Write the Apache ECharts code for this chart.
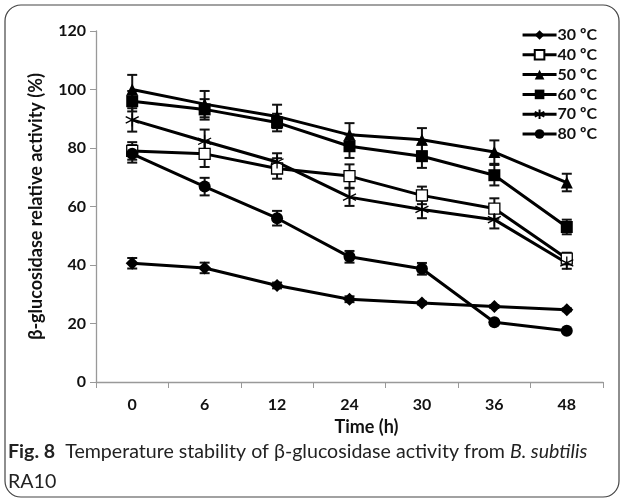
<!DOCTYPE html>
<html>
<head>
<meta charset="utf-8">
<script src="https://cdn.jsdelivr.net/npm/echarts@6/dist/echarts.min.js"></script>
<style>
  html, body { margin: 0; padding: 0; background: #fff; }
  #chart { width: 624px; height: 502px; }
</style>
</head>
<body>
<div id="chart"></div>
<script>
// time points (h)
const times = ['0', '6', '12', '24', '30', '36', '48'];
const yTicks = [0, 20, 40, 60, 80, 100, 120];

// relative activity (%) per temperature
const t30 = [40.6, 39.0, 33.0, 28.3, 27.0, 25.8, 24.7];
const t40 = [79.0, 78.0, 73.0, 70.4, 63.8, 59.3, 42.2];
const t50 = [100.0, 95.0, 90.8, 84.5, 82.8, 78.6, 68.2];
const t60 = [96.0, 93.2, 88.7, 80.6, 77.2, 70.7, 53.0];
const t70 = [89.6, 82.3, 75.2, 63.2, 59.0, 55.5, 40.7];
const t80 = [78.0, 66.8, 56.0, 42.8, 38.7, 20.4, 17.5];

// +/- error (%)
const e30 = [1.8, 1.8, 1.0, 1.0, 0.5, 0.5, 0.5];
const e40 = [3.0, 4.5, 3.5, 4.0, 3.0, 3.5, 2.0];
const e50 = [5.0, 4.5, 4.0, 4.0, 4.0, 4.0, 3.0];
const e60 = [3.5, 3.5, 3.0, 4.0, 4.0, 3.5, 2.5];
const e70 = [4.0, 4.0, 3.0, 3.0, 3.0, 3.0, 2.0];
const e80 = [3.0, 3.0, 2.5, 2.0, 2.0, 0.5, 0.5];

const names = ['30 \u00baC', '40 \u00baC', '50 \u00baC', '60 \u00baC', '70 \u00baC', '80 \u00baC'];
const values = [t30, t40, t50, t60, t70, t80];
const errors = [e30, e40, e50, e60, e70, e80];

const asterisk = 'path://M5,0L5,10M0.7,2.5L9.3,7.5M0.7,7.5L9.3,2.5';
const symbols = ['diamond', 'rect', 'triangle', 'rect', asterisk, 'circle'];
const sizes = [13, 11, 12, 12, 13, 12];

const font = 'Lato, "Open Sans", sans-serif';

const chart = echarts.init(document.getElementById('chart'), null, { renderer: 'canvas' });

// error bars drawn from the axes
function errorSeries(vals, errs) {
  return {
    type: 'custom',
    silent: true,
    z: 1,
    data: vals.map((v, i) => [i, v - errs[i], v + errs[i]]),
    renderItem: function (params, api) {
      const lo = api.coord([api.value(0), api.value(1)]);
      const hi = api.coord([api.value(0), api.value(2)]);
      const w = 5;
      const style = { stroke: '#111', lineWidth: 2 };
      return {
        type: 'group',
        children: [
          { type: 'line', shape: { x1: lo[0], y1: lo[1], x2: hi[0], y2: hi[1] }, style: style },
          { type: 'line', shape: { x1: lo[0] - w, y1: lo[1], x2: lo[0] + w, y2: lo[1] }, style: style },
          { type: 'line', shape: { x1: hi[0] - w, y1: hi[1], x2: hi[0] + w, y2: hi[1] }, style: style }
        ]
      };
    }
  };
}

const series = [];
names.forEach((name, k) => {
  const open = k === 1 || k === 4;
  series.push({
    name: name,
    type: 'line',
    data: values[k],
    symbol: symbols[k],
    symbolSize: sizes[k],
    z: 3,
    lineStyle: { color: '#000', width: 3 },
    itemStyle: open
      ? { color: '#fff', borderColor: '#000', borderWidth: 1.3, opacity: 1 }
      : { color: '#000', borderColor: '#000', borderWidth: 0 },
    emphasis: { disabled: true }
  });
  series.push(errorSeries(values[k], errors[k]));
});

const option = {
  animation: false,
  color: ['#000'],
  grid: { left: 96, right: 21, top: 31, bottom: 120 },
  legend: {
    data: names,
    orient: 'vertical',
    right: 22,
    top: 22,
    itemWidth: 34,
    itemHeight: 12,
    itemGap: 3.8,
    lineStyle: { width: 3 },
    textStyle: { fontFamily: font, fontWeight: 'bold', fontSize: 16, color: '#111', padding: [0, 0, 0, -4] }
  },
  xAxis: {
    type: 'category',
    data: times,
    name: 'Time (h)',
    nameLocation: 'middle',
    nameGap: 34,
    nameTextStyle: { fontFamily: font, fontWeight: 'bold', fontSize: 18, color: '#111', padding: [0, 0, 0, 34] },
    axisLine: { lineStyle: { color: '#999', width: 1.3 } },
    axisTick: { show: true, length: 6, lineStyle: { color: '#999' } },
    axisLabel: { fontFamily: font, fontWeight: 'bold', fontSize: 16, color: '#111', margin: 15 },
    splitLine: { show: false }
  },
  yAxis: {
    type: 'value',
    min: yTicks[0],
    max: yTicks[yTicks.length - 1],
    interval: 20,
    name: '\u03b2-glucosidase relative activity (%)',
    nameLocation: 'middle',
    nameGap: 51,
    nameTextStyle: { fontFamily: font, fontWeight: 'bold', fontSize: 18, color: '#111' },
    axisLine: { show: true, lineStyle: { color: '#999', width: 1.3 } },
    axisTick: { show: true, inside: false, length: 6, lineStyle: { color: '#999' } },
    axisLabel: { fontFamily: font, fontWeight: 'bold', fontSize: 16, color: '#111', margin: 10 },
    splitLine: { show: false }
  },
  graphic: [
    {
      type: 'rect',
      shape: { x: 5, y: 5, width: 614, height: 492, r: 16 },
      style: { fill: 'none', stroke: '#444', lineWidth: 1.2 },
      silent: true
    },
    {
      type: 'text',
      left: 8,
      top: 437,
      style: {
        text: '{b|Fig. 8}  Temperature stability of \u03b2-glucosidase activity from {i|B. subtilis}\nRA10',
        font: '19.6px ' + font,
        fill: '#222',
        lineHeight: 30,
        rich: {
          b: { fontFamily: font, fontWeight: 'bold', fontSize: 19.6, fill: '#222' },
          i: { fontFamily: font, fontStyle: 'italic', fontSize: 19.6, fill: '#222' }
        }
      }
    }
  ],
  series: series
};

chart.setOption(option);
</script>
</body>
</html>
